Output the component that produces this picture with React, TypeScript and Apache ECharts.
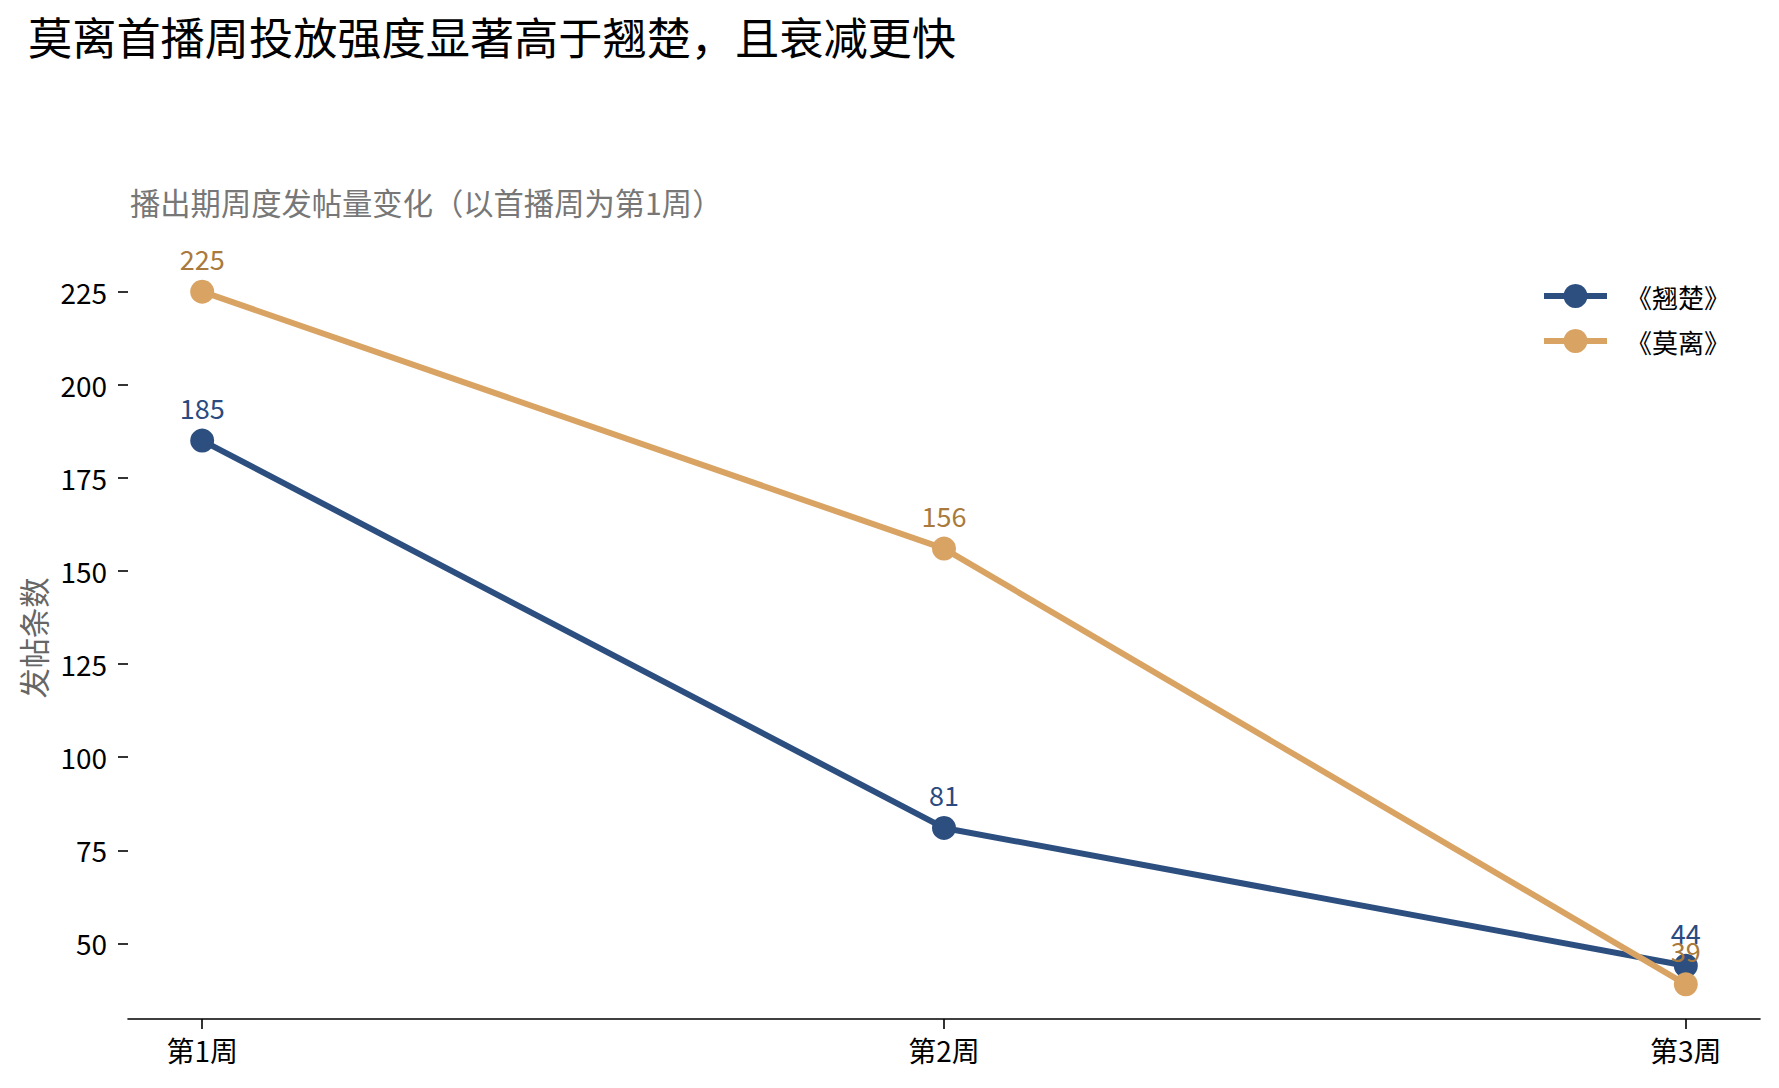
import { useEffect, useRef } from 'react'
import * as echarts from 'echarts'

const weeks = ['第1周', '第2周', '第3周']
const qiaochu = [185, 81, 44]
const moli = [225, 156, 39]
const yTicks = [50, 75, 100, 125, 150, 175, 200, 225]

const FONT = '"Noto Sans CJK SC", "Noto Sans", sans-serif'
const BLUE = '#2C4F80'
const ORANGE = '#D9A463'

export default function App() {
  const chartRef = useRef<HTMLDivElement>(null)

  useEffect(() => {
    if (!chartRef.current) return
    const chart = echarts.init(chartRef.current, null, { renderer: 'svg' })

    // matplotlib-style 5% margins around the data
    const all = [...qiaochu, ...moli]
    const lo = Math.min(...all)
    const hi = Math.max(...all)
    const pad = (hi - lo) * 0.05
    const xPad = (weeks.length - 1) * 0.05

    const toPoints = (vals: number[]) => vals.map((v, i) => [i, v])

    chart.setOption({
      animation: false,
      textStyle: { fontFamily: FONT },
      title: [
        {
          text: '莫离首播周投放强度显著高于翘楚，且衰减更快',
          left: 28,
          top: 14,
          padding: 0,
          textStyle: { fontSize: 44.2, fontWeight: 'normal', color: '#000', fontFamily: FONT }
        },
        {
          text: '播出期周度发帖量变化（以首播周为第1周）',
          left: 130,
          top: 187,
          padding: 0,
          textStyle: { fontSize: 30.3, fontWeight: 'normal', color: '#777', fontFamily: FONT }
        }
      ],
      legend: {
        orient: 'vertical',
        left: 1541,
        top: 283,
        padding: 0,
        itemWidth: 63,
        itemHeight: 30,
        itemGap: 19,
        lineStyle: { width: 6 },
        textStyle: { fontSize: 26, color: '#000', fontFamily: FONT, padding: [0, 0, 0, 14] },
        data: ['《翘楚》', '《莫离》']
      },
      grid: { left: 128, right: 19, top: 257, bottom: 69 },
      xAxis: {
        type: 'value',
        min: -xPad,
        max: weeks.length - 1 + xPad,
        splitLine: { show: false },
        axisLine: { show: true, onZero: false, lineStyle: { color: '#000', width: 1.6 } },
        axisTick: { show: true, length: 10, lineStyle: { color: '#000', width: 1.6 }, customValues: [0, 1, 2] },
        axisLabel: {
          customValues: [0, 1, 2],
          formatter: (v: number) => weeks[Math.round(v)] ?? '',
          fontSize: 28,
          color: '#000',
          margin: 17,
          fontFamily: FONT
        }
      },
      yAxis: {
        type: 'value',
        min: lo - pad,
        max: hi + pad,
        name: '发帖条数',
        nameLocation: 'middle',
        nameRotate: 90,
        nameGap: 80,
        nameTextStyle: { fontSize: 30.3, color: '#666', fontFamily: FONT },
        splitLine: { show: false },
        axisLine: { show: false, onZero: false },
        axisTick: { show: true, length: 10, lineStyle: { color: '#000', width: 1.6 }, customValues: yTicks },
        axisLabel: {
          customValues: yTicks,
          fontSize: 28,
          color: '#000',
          margin: 21,
          fontFamily: FONT
        }
      },
      series: [
        {
          name: '《翘楚》',
          type: 'line',
          data: toPoints(qiaochu),
          symbol: 'circle',
          symbolSize: 24,
          lineStyle: { color: BLUE, width: 6 },
          itemStyle: { color: BLUE },
          label: { show: true, position: 'top', distance: 8, fontSize: 27, color: '#2A4A80', fontFamily: FONT, formatter: (p: any) => String(p.value[1]) }
        },
        {
          name: '《莫离》',
          type: 'line',
          data: toPoints(moli),
          symbol: 'circle',
          symbolSize: 24,
          lineStyle: { color: ORANGE, width: 6 },
          itemStyle: { color: ORANGE },
          label: { show: true, position: 'top', distance: 8, fontSize: 27, color: '#A97A3C', fontFamily: FONT, formatter: (p: any) => String(p.value[1]) }
        }
      ]
    })

    return () => {
      chart.dispose()
    }
  }, [])

  return (
    <div
      ref={chartRef}
      style={{ position: 'fixed', left: 0, top: 0, width: '1779px', height: '1088px', background: '#fff' }}
    />
  )
}
